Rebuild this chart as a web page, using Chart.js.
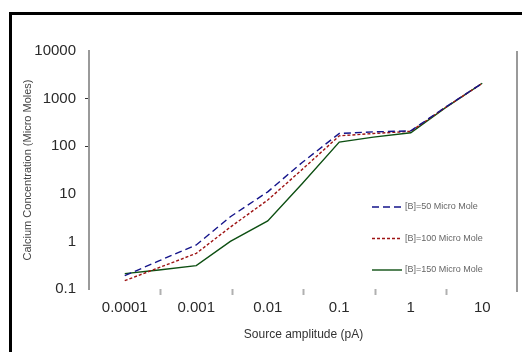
<!DOCTYPE html>
<html>
<head>
<meta charset="utf-8">
<script src="https://cdn.jsdelivr.net/npm/chart.js@4/dist/chart.umd.min.js"></script>
<style>
  html, body { margin: 0; padding: 0; background: #fff; }
  #wrap { position: relative; width: 522px; height: 352px; overflow: hidden; background: #fff; }
  #frame { position: absolute; left: 9px; top: 12px; width: 600px; height: 400px;
           border-left: 3px solid #000; border-top: 3px solid #000; box-sizing: border-box; }
  canvas { position: absolute; left: 0; top: 0; }
</style>
</head>
<body>
<div id="wrap">
  <div id="frame"></div>
  <canvas id="c" width="522" height="352"></canvas>
</div>
<script>
// ---- data ----
const amplitudes = [0.0001, 0.0003, 0.001, 0.003, 0.01, 0.03, 0.1, 0.3, 1, 3, 10];
const seriesB50  = [0.19, 0.39, 0.84, 3.3, 11, 45, 185, 200, 210, 650, 2100];
const seriesB100 = [0.15, 0.28, 0.56, 2.0, 7.4, 32, 165, 185, 205, 640, 2100];
const seriesB150 = [0.21, 0.25, 0.31, 1.0, 2.7, 16, 122, 155, 192, 630, 2100];
const seriesLabels = ['[B]=50 Micro Mole', '[B]=100 Micro Mole', '[B]=150 Micro Mole'];
const xTickValues = [0.0001, 0.001, 0.01, 0.1, 1, 10];
const xTickLabels = ['0.0001', '0.001', '0.01', '0.1', '1', '10'];
const yTickValues = [0.1, 1, 10, 100, 1000, 10000];
const yTickLabels = ['0.1', '1', '10', '100', '1000', '10000'];
const xTitle = 'Source amplitude (pA)';
const yTitle = 'Calcium Concentration (Micro Moles)';

const toPts = s => amplitudes.map((a, i) => ({ x: a, y: s[i] }));

const halfTicks = [];
for (let i = 0; i < xTickValues.length - 1; i++) halfTicks.push(Math.sqrt(xTickValues[i] * xTickValues[i + 1]));
const isDecade = v => xTickValues.some(t => Math.abs(Math.log10(v) - Math.log10(t)) < 1e-6);

const framePlugin = {
  id: 'framePlugin',
  afterDraw(chart) {
    const { ctx, chartArea } = chart;
    ctx.save();
    ctx.strokeStyle = '#9a9a9a';
    ctx.lineWidth = 2;
    ctx.beginPath();
    ctx.moveTo(chartArea.right - 1, chartArea.top);
    ctx.lineTo(chartArea.right - 1, chartArea.bottom + 3);
    ctx.stroke();
    ctx.restore();
  }
};

const legendPlugin = {
  id: 'innerLegend',
  afterDatasetsDraw(chart, args, opts) {
    const { ctx, chartArea } = chart;
    ctx.save();
    chart.data.datasets.forEach((ds, i) => {
      const y = chartArea.top + opts.top + i * opts.gap;
      const x0 = chartArea.right - opts.right;
      ctx.strokeStyle = ds.borderColor;
      ctx.lineWidth = ds.borderWidth;
      ctx.setLineDash(ds.borderDash || []);
      ctx.beginPath();
      ctx.moveTo(x0, y);
      ctx.lineTo(x0 + opts.lineLen, y);
      ctx.stroke();
      ctx.setLineDash([]);
      ctx.fillStyle = '#666';
      ctx.font = '9px "Liberation Sans", Arial, sans-serif';
      ctx.textBaseline = 'middle';
      ctx.textAlign = 'left';
      ctx.fillText(ds.label, x0 + opts.lineLen + 3, y);
    });
    ctx.restore();
  }
};

new Chart(document.getElementById('c'), {
  type: 'line',
  data: {
    datasets: [
      { label: seriesLabels[0], data: toPts(seriesB50), borderColor: '#14148a', borderWidth: 1.4, borderDash: [7, 4], pointRadius: 0, tension: 0, fill: false },
      { label: seriesLabels[1], data: toPts(seriesB100), borderColor: '#9e1414', borderWidth: 1.4, borderDash: [3, 2], pointRadius: 0, tension: 0, fill: false },
      { label: seriesLabels[2], data: toPts(seriesB150), borderColor: '#0d4f12', borderWidth: 1.4, pointRadius: 0, tension: 0, fill: false }
    ]
  },
  options: {
    responsive: false,
    animation: false,
    devicePixelRatio: 1,
    layout: { padding: { left: 12, right: 4, top: 51, bottom: 10 } },
    plugins: {
      legend: { display: false },
      tooltip: { enabled: false },
      innerLegend: { top: 156, gap: 31.5, right: 146, lineLen: 30 }
    },
    scales: {
      x: {
        type: 'logarithmic',
        min: Math.pow(10, -4.5),
        max: Math.pow(10, 1.5),
        afterBuildTicks: s => { s.ticks = xTickValues.concat(halfTicks).sort((a, b) => a - b).map(v => ({ value: v })); },
        afterFit: s => { s.height = 53; },
        border: { display: false },
        grid: {
          drawOnChartArea: false, drawTicks: true, tickLength: 6, tickWidth: 2,
          color: 'rgba(0,0,0,0)',
          tickColor: c => (c.tick && !isDecade(c.tick.value)) ? '#b0b0b0' : 'rgba(0,0,0,0)'
        },
        ticks: {
          autoSkip: false, maxRotation: 0, padding: 4, color: '#2a2a2a',
          font: { family: '"Liberation Sans", Arial, sans-serif', size: 15 },
          callback: (v) => { const i = xTickValues.findIndex(t => Math.abs(Math.log10(t) - Math.log10(v)) < 1e-6); return i >= 0 ? xTickLabels[i] : ''; }
        },
        title: { display: true, text: xTitle, color: '#333', font: { family: '"Liberation Sans", Arial, sans-serif', size: 12 }, padding: { top: 4, bottom: 0 } }
      },
      y: {
        type: 'logarithmic',
        min: 0.1,
        max: 10000,
        afterBuildTicks: s => { s.ticks = yTickValues.map(v => ({ value: v })); },
        afterFit: s => { s.width = 77; },
        border: { display: true, color: '#9a9a9a', width: 2 },
        grid: {
          drawOnChartArea: false, drawTicks: true, tickLength: 4, tickWidth: 1,
          color: 'rgba(0,0,0,0)',
          tickColor: c => (c.tick && (c.tick.value === 100 || c.tick.value === 1000)) ? '#333' : 'rgba(0,0,0,0)'
        },
        ticks: {
          padding: 9, color: '#2a2a2a',
          font: { family: '"Liberation Sans", Arial, sans-serif', size: 15 },
          callback: (v) => { const i = yTickValues.indexOf(v); return i >= 0 ? yTickLabels[i] : ''; }
        },
        title: { display: true, text: yTitle, color: '#444', font: { family: '"Liberation Sans", Arial, sans-serif', size: 11 }, padding: { top: 9, bottom: 0 } }
      }
    }
  },
  plugins: [framePlugin, legendPlugin]
});
</script>
</body>
</html>
